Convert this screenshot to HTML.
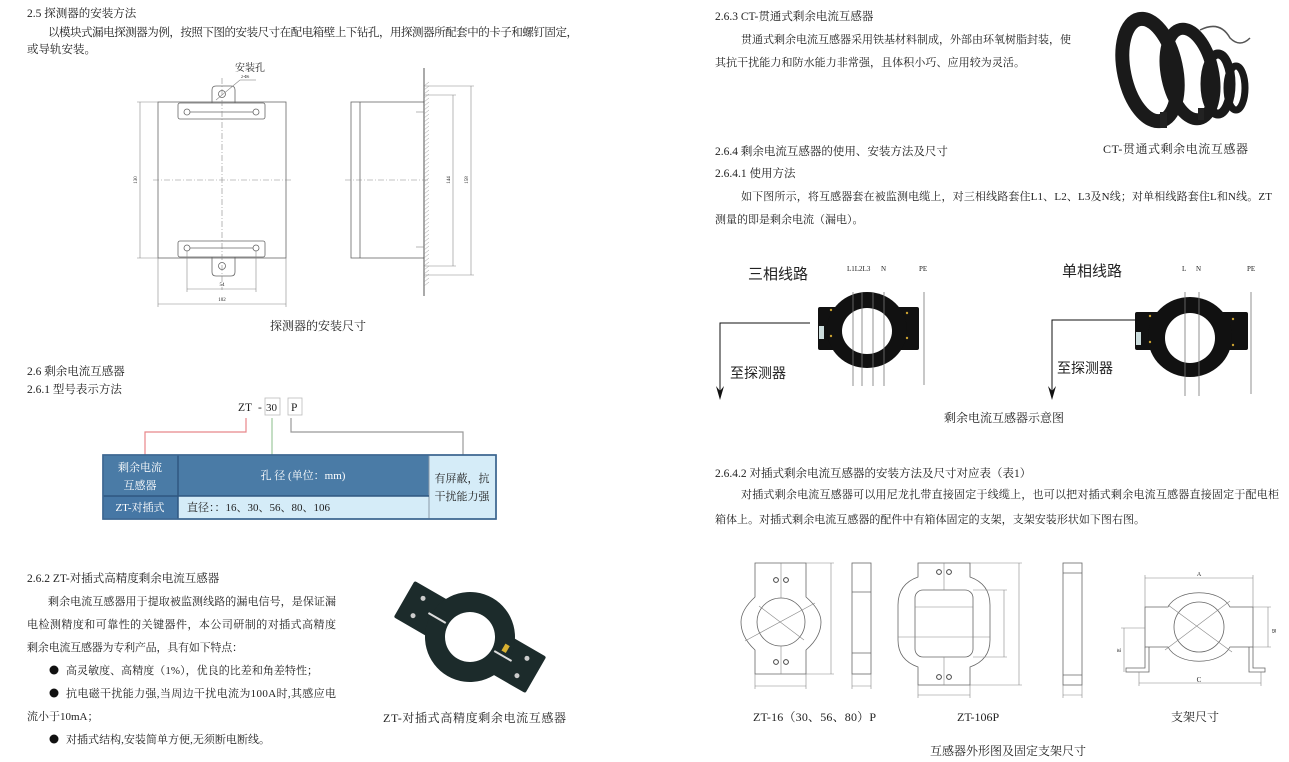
<!DOCTYPE html>
<html><head><meta charset="utf-8"><style>
html,body{margin:0;padding:0;background:#fff;}
svg{display:block;}
text{font-family:"Liberation Serif","Noto Serif CJK SC",serif;fill:#222;}
.s{font-family:"Liberation Sans","Noto Sans CJK SC",sans-serif;}
.ln{stroke:#666;stroke-width:0.8;fill:none;}
.dl{stroke:#888;stroke-width:0.6;fill:none;}
.cl{stroke:#888;stroke-width:0.6;stroke-dasharray:6 2 1 2;fill:none;}
</style></head><body>
<svg width="1289" height="762" viewBox="0 0 1289 762" xmlns="http://www.w3.org/2000/svg">
<!-- LEFT TOP TEXT -->
<text x="27" y="17" font-size="11.5">2.5 探测器的安装方法</text>
<text x="48" y="36" font-size="11.5" textLength="530">以模块式漏电探测器为例，按照下图的安装尺寸在配电箱壁上下钻孔，用探测器所配套中的卡子和螺钉固定，</text>
<text x="27" y="53" font-size="11.5">或导轨安装。</text>

<!-- front view -->
<rect class="ln" x="158" y="102" width="128" height="156"/>
<path class="ln" d="M212,103 L212,90 Q212,86 216,86 L231,86 Q235,86 235,90 L235,103"/>
<rect class="ln" x="178" y="103" width="87" height="16" rx="2" fill="#fff"/>
<circle class="ln" cx="222" cy="94" r="3.5"/>
<circle class="ln" cx="187" cy="112" r="3"/><circle class="ln" cx="256" cy="112" r="3"/>
<line class="ln" x1="190" y1="112" x2="253" y2="112"/>
<rect class="ln" x="178" y="241" width="87" height="16" rx="2" fill="#fff"/>
<circle class="ln" cx="187" cy="248" r="3"/><circle class="ln" cx="256" cy="248" r="3"/>
<line class="ln" x1="190" y1="248" x2="253" y2="248"/>
<path class="ln" d="M212,257 L212,272 Q212,276 216,276 L231,276 Q235,276 235,272 L235,257"/>
<circle class="ln" cx="222" cy="266" r="3.5"/>
<line class="cl" x1="222" y1="78" x2="222" y2="290"/>
<line class="cl" x1="153" y1="180" x2="291" y2="180"/>
<line class="dl" x1="140" y1="102" x2="140" y2="258"/>
<line class="dl" x1="137" y1="102" x2="158" y2="102"/><line class="dl" x1="137" y1="258" x2="158" y2="258"/>
<text x="137" y="180" font-size="5" transform="rotate(-90 137 180)" text-anchor="middle">130</text>
<line class="dl" x1="187" y1="289" x2="256" y2="289"/>
<line class="dl" x1="187" y1="250" x2="187" y2="292"/><line class="dl" x1="256" y1="250" x2="256" y2="292"/>
<text x="222" y="286" font-size="5" text-anchor="middle">54</text>
<line class="dl" x1="158" y1="304" x2="286" y2="304"/>
<line class="dl" x1="158" y1="258" x2="158" y2="307"/><line class="dl" x1="286" y1="258" x2="286" y2="307"/>
<text x="222" y="301" font-size="5" text-anchor="middle">102</text>
<text x="235" y="71" font-size="10">安装孔</text>
<text x="241" y="78" font-size="4">2-Φ6</text>
<line class="dl" x1="216" y1="100" x2="240" y2="80"/><line class="dl" x1="240" y1="80" x2="256" y2="80"/>

<!-- side view -->
<rect class="ln" x="351" y="102" width="73" height="156"/>
<line class="ln" x1="360" y1="102" x2="360" y2="258"/>
<line x1="424" y1="68" x2="424" y2="296" stroke="#555" stroke-width="1"/>
<path stroke="#999" stroke-width="0.5" fill="none" d="M424,262 l5,-4 M424,258 l5,-4 M424,254 l5,-4 M424,250 l5,-4 M424,246 l5,-4 M424,242 l5,-4 M424,238 l5,-4 M424,234 l5,-4 M424,230 l5,-4 M424,226 l5,-4 M424,222 l5,-4 M424,218 l5,-4 M424,214 l5,-4 M424,210 l5,-4 M424,206 l5,-4 M424,202 l5,-4 M424,198 l5,-4 M424,194 l5,-4 M424,190 l5,-4 M424,186 l5,-4 M424,182 l5,-4 M424,178 l5,-4 M424,174 l5,-4 M424,170 l5,-4 M424,166 l5,-4 M424,162 l5,-4 M424,158 l5,-4 M424,154 l5,-4 M424,150 l5,-4 M424,146 l5,-4 M424,142 l5,-4 M424,138 l5,-4 M424,134 l5,-4 M424,130 l5,-4 M424,126 l5,-4 M424,122 l5,-4 M424,118 l5,-4 M424,114 l5,-4 M424,110 l5,-4 M424,106 l5,-4 M424,102 l5,-4 M424,98 l5,-4 M424,94 l5,-4 M424,90 l5,-4 M424,86 l5,-4 M424,266 l5,-4 M424,270 l5,-4 M424,274 l5,-4 M424,278 l5,-4 M424,282 l5,-4 M424,286 l5,-4"/>
<line class="cl" x1="345" y1="180" x2="430" y2="180"/>
<line class="dl" x1="453" y1="95" x2="453" y2="266"/>
<line class="dl" x1="424" y1="95" x2="456" y2="95"/><line class="dl" x1="424" y1="266" x2="456" y2="266"/>
<line class="dl" x1="471" y1="86" x2="471" y2="275"/>
<line class="dl" x1="424" y1="86" x2="474" y2="86"/><line class="dl" x1="424" y1="275" x2="474" y2="275"/>
<line class="dl" x1="416" y1="112" x2="424" y2="112"/><line class="dl" x1="416" y1="247" x2="424" y2="247"/>
<text x="450" y="180" font-size="5" transform="rotate(-90 450 180)" text-anchor="middle">144</text>
<text x="468" y="180" font-size="5" transform="rotate(-90 468 180)" text-anchor="middle">158</text>
<text x="318" y="330" font-size="12" text-anchor="middle">探测器的安装尺寸</text>

<!-- 2.6 -->
<text x="27" y="375" font-size="11.5">2.6  剩余电流互感器</text>
<text x="27" y="393" font-size="11.5">2.6.1  型号表示方法</text>
<text x="238" y="411" font-size="11.5">ZT</text>
<text x="258" y="411" font-size="11.5">-</text>
<rect x="265" y="398" width="15" height="17" fill="none" stroke="#bbb" stroke-width="0.8"/>
<text x="266" y="411" font-size="11">30</text>
<rect x="288" y="398" width="14" height="17" fill="none" stroke="#bbb" stroke-width="0.8"/>
<text x="291" y="411" font-size="11.5">P</text>
<polyline points="246,418 246,432 145,432 145,455" fill="none" stroke="#e8868a" stroke-width="1.2"/>
<line x1="272" y1="418" x2="272" y2="455" stroke="#9cc79c" stroke-width="1.2"/>
<polyline points="291,418 291,432 463,432 463,455" fill="none" stroke="#999" stroke-width="1.2"/>
<!-- table -->
<rect x="103" y="455" width="393" height="64" fill="#d5ecf8" stroke="#3d6690" stroke-width="1.5"/>
<rect x="103" y="455" width="326" height="41" fill="#4a7ba6"/>
<rect x="103" y="496" width="75" height="23" fill="#4677a5"/>
<line x1="178" y1="455" x2="178" y2="519" stroke="#2f5780" stroke-width="1.5"/>
<line x1="429" y1="455" x2="429" y2="519" stroke="#8a9aa8" stroke-width="1"/>
<line x1="103" y1="496" x2="429" y2="496" stroke="#2f5780" stroke-width="1.5"/>
<rect x="103" y="455" width="393" height="64" fill="none" stroke="#3d6690" stroke-width="1.5"/>
<text x="140" y="471" font-size="11" fill="#fff" style="fill:#fff" text-anchor="middle">剩余电流</text>
<text x="140" y="489" font-size="11" style="fill:#fff" text-anchor="middle">互感器</text>
<text x="303" y="479" font-size="11" style="fill:#fff" text-anchor="middle">孔  径    (单位：mm)</text>
<text x="140" y="511" font-size="11" style="fill:#fff" text-anchor="middle">ZT-对插式</text>
<text x="187" y="511" font-size="11">直径：：16、30、56、80、106</text>
<text x="462" y="482" font-size="11" text-anchor="middle">有屏蔽，抗</text>
<text x="462" y="500" font-size="11" text-anchor="middle">干扰能力强</text>

<!-- 2.6.2 -->
<text x="27" y="582" font-size="11.5">2.6.2  ZT-对插式高精度剩余电流互感器</text>
<text x="48" y="605" font-size="11" textLength="288">剩余电流互感器用于提取被监测线路的漏电信号，是保证漏</text>
<text x="27" y="628" font-size="11" textLength="309">电检测精度和可靠性的关键器件，本公司研制的对插式高精度</text>
<text x="27" y="651" font-size="11" textLength="216">剩余电流互感器为专利产品，具有如下特点：</text>
<circle cx="54" cy="670" r="4.5" fill="#111"/>
<text x="66" y="674" font-size="11" textLength="252">高灵敏度、高精度（1%），优良的比差和角差特性；</text>
<circle cx="54" cy="693" r="4.5" fill="#111"/>
<text x="66" y="697" font-size="11" textLength="270">抗电磁干扰能力强,当周边干扰电流为100A时,其感应电</text>
<text x="27" y="720" font-size="11">流小于10mA；</text>
<circle cx="54" cy="739" r="4.5" fill="#111"/>
<text x="66" y="743" font-size="11" textLength="204">对插式结构,安装简单方便,无须断电断线。</text>
<!-- ZT photo -->
<g transform="translate(470,637) rotate(30)">
<rect x="-76" y="-21" width="152" height="42" rx="2" fill="#1c2b2b"/>
<circle r="45" fill="#1c2b2b"/>
<circle r="25" fill="#fff"/>
<rect x="-48" y="-1" width="20" height="2" fill="#ddd"/>
<rect x="28" y="-1" width="20" height="2" fill="#ddd"/>
<circle cx="-60" cy="-10" r="2.5" fill="#ccc"/><circle cx="-60" cy="10" r="2.5" fill="#ccc"/>
<circle cx="60" cy="-10" r="2.5" fill="#ccc"/><circle cx="60" cy="10" r="2.5" fill="#ccc"/>
<rect x="34" y="-12" width="5" height="8" fill="#d8b030"/>
</g>
<text x="383" y="722" font-size="12" textLength="183">ZT-对插式高精度剩余电流互感器</text>

<!-- RIGHT TOP -->
<text x="715" y="20" font-size="11.5">2.6.3  CT-贯通式剩余电流互感器</text>
<text x="741" y="43" font-size="11" textLength="330">贯通式剩余电流互感器采用铁基材料制成，外部由环氧树脂封装，使</text>
<text x="715" y="66" font-size="11" textLength="310">其抗干扰能力和防水能力非常强，且体积小巧、应用较为灵活。</text>
<!-- CT photo -->
<g fill="none" stroke="#1a1a1a">
<ellipse cx="1236" cy="88" rx="9" ry="22" stroke-width="7"/>
<ellipse cx="1218" cy="84" rx="13" ry="30" stroke-width="9"/>
<ellipse cx="1190" cy="74" rx="23" ry="46" stroke-width="12" transform="rotate(-12 1190 74)"/>
<ellipse cx="1150" cy="70" rx="26" ry="52" stroke-width="14" transform="rotate(-12 1150 70)"/>
</g>
<rect x="1160" y="112" width="7" height="16" fill="#222"/>
<rect x="1198" y="108" width="6" height="12" fill="#222"/>
<path d="M1200,30 q20,-10 30,8 q10,10 20,0" fill="none" stroke="#555" stroke-width="1.5"/>
<text x="1103" y="153" font-size="12" textLength="145">CT-贯通式剩余电流互感器</text>
<text x="715" y="155" font-size="11.5">2.6.4  剩余电流互感器的使用、安装方法及尺寸</text>
<text x="715" y="177" font-size="11.5">2.6.4.1  使用方法</text>
<text x="741" y="200" font-size="11" textLength="531">如下图所示，将互感器套在被监测电缆上，对三相线路套住L1、L2、L3及N线；对单相线路套住L和N线。ZT</text>
<text x="715" y="223" font-size="11">测量的即是剩余电流（漏电）。</text>

<!-- schematic -->
<text class="s" x="748" y="279" font-size="15" fill="#333">三相线路</text>
<text x="847" y="271" font-size="7">L1L2L3</text><text x="881" y="271" font-size="7">N</text><text x="919" y="271" font-size="7">PE</text>
<rect x="818" y="307" width="101" height="43" rx="2" fill="#111"/>
<ellipse cx="867" cy="330" rx="40" ry="38" fill="#111"/>
<ellipse cx="867" cy="331" rx="25" ry="23" fill="#fff"/>
<rect x="819" y="326" width="5" height="13" fill="#cdd"/>
<circle cx="831" cy="310" r="1.2" fill="#c9a030"/><circle cx="831" cy="336" r="1.2" fill="#c9a030"/>
<circle cx="907" cy="313" r="1.2" fill="#c9a030"/><circle cx="907" cy="338" r="1.2" fill="#c9a030"/>
<g stroke="#777" stroke-width="0.8"><line x1="853" y1="292" x2="853" y2="386"/><line x1="862" y1="292" x2="862" y2="386"/><line x1="873" y1="292" x2="873" y2="386"/><line x1="884" y1="292" x2="884" y2="386"/><line x1="924" y1="292" x2="924" y2="385"/></g>
<polyline points="810,323 720,323 720,396" fill="none" stroke="#111" stroke-width="1"/>
<path d="M716,386 L720,400 L724,386 L720,391 Z" fill="#111"/>
<text class="s" x="730" y="378" font-size="14" fill="#333">至探测器</text>

<text class="s" x="1062" y="276" font-size="15" fill="#333">单相线路</text>
<text x="1182" y="271" font-size="7">L</text><text x="1196" y="271" font-size="7">N</text><text x="1247" y="271" font-size="7">PE</text>
<rect x="1135" y="312" width="113" height="38" rx="2" fill="#111"/>
<ellipse cx="1190" cy="337" rx="42" ry="40" fill="#111"/>
<ellipse cx="1190" cy="338" rx="25" ry="25" fill="#fff"/>
<rect x="1136" y="332" width="5" height="13" fill="#cdd"/>
<circle cx="1150" cy="316" r="1.2" fill="#c9a030"/><circle cx="1150" cy="342" r="1.2" fill="#c9a030"/>
<circle cx="1233" cy="319" r="1.2" fill="#c9a030"/><circle cx="1233" cy="345" r="1.2" fill="#c9a030"/>
<g stroke="#777" stroke-width="0.8"><line x1="1185" y1="292" x2="1185" y2="396"/><line x1="1199" y1="292" x2="1199" y2="396"/><line x1="1251" y1="292" x2="1251" y2="394"/></g>
<polyline points="1135,320 1052,320 1052,396" fill="none" stroke="#111" stroke-width="1"/>
<path d="M1048,386 L1052,400 L1056,386 L1052,391 Z" fill="#111"/>
<text class="s" x="1057" y="373" font-size="14" fill="#333">至探测器</text>
<text x="1004" y="422" font-size="12" text-anchor="middle">剩余电流互感器示意图</text>

<!-- 2.6.4.2 -->
<text x="715" y="477" font-size="11.5">2.6.4.2  对插式剩余电流互感器的安装方法及尺寸对应表（表1）</text>
<text x="741" y="498" font-size="11" textLength="538">对插式剩余电流互感器可以用尼龙扎带直接固定于线缆上，也可以把对插式剩余电流互感器直接固定于配电柜</text>
<text x="715" y="523" font-size="11" textLength="430">箱体上。对插式剩余电流互感器的配件中有箱体固定的支架，支架安装形状如下图右图。</text>

<!-- ZT-16 -->
<path class="ln" d="M755,563 L806,563 L806,597 Q821,610 821,622 Q821,637 806,650 L806,674 L755,674 L755,650 Q741,637 741,622 Q741,610 755,597 Z"/>
<circle class="ln" cx="781" cy="622" r="24"/>
<line class="dl" x1="781" y1="563" x2="781" y2="598"/><line class="dl" x1="781" y1="646" x2="781" y2="674"/>
<line class="dl" x1="745" y1="641" x2="815" y2="603"/><line class="dl" x1="759" y1="606" x2="804" y2="640"/>
<g fill="#fff" stroke="#444" stroke-width="1"><circle cx="776" cy="580" r="2.4"/><circle cx="786" cy="580" r="2.4"/><circle cx="776" cy="662" r="2.4"/><circle cx="786" cy="662" r="2.4"/></g>
<line class="dl" x1="831" y1="563" x2="831" y2="674"/><line class="dl" x1="806" y1="563" x2="834" y2="563"/><line class="dl" x1="806" y1="674" x2="834" y2="674"/>
<line class="dl" x1="755" y1="686" x2="806" y2="686"/><line class="dl" x1="755" y1="674" x2="755" y2="689"/><line class="dl" x1="806" y1="674" x2="806" y2="689"/>
<rect class="ln" x="852" y="563" width="19" height="111"/>
<line class="ln" x1="852" y1="592" x2="871" y2="592"/><line class="ln" x1="852" y1="653" x2="871" y2="653"/>
<line class="dl" x1="852" y1="686" x2="871" y2="686"/><line class="dl" x1="852" y1="674" x2="852" y2="689"/><line class="dl" x1="871" y1="674" x2="871" y2="689"/>

<!-- ZT-106P -->
<path class="ln" d="M918,563 L970,563 L970,577 Q990,584 990,605 L990,640 Q990,660 970,667 L970,685 L918,685 L918,667 Q898,660 898,640 L898,605 Q898,584 918,577 Z"/>
<rect class="ln" x="915" y="590" width="58" height="67" rx="8"/>
<line class="dl" x1="944" y1="563" x2="944" y2="590"/><line class="dl" x1="944" y1="657" x2="944" y2="685"/>
<line class="dl" x1="915" y1="607" x2="973" y2="607"/><line class="dl" x1="898" y1="637" x2="990" y2="637"/>
<line class="dl" x1="1004" y1="590" x2="1004" y2="657"/><line class="dl" x1="973" y1="590" x2="1007" y2="590"/><line class="dl" x1="973" y1="657" x2="1007" y2="657"/>
<line class="dl" x1="1019" y1="563" x2="1019" y2="685"/><line class="dl" x1="970" y1="563" x2="1022" y2="563"/><line class="dl" x1="970" y1="685" x2="1022" y2="685"/>
<g fill="#fff" stroke="#444" stroke-width="1"><circle cx="939" cy="572" r="2.4"/><circle cx="949" cy="572" r="2.4"/><circle cx="939" cy="677" r="2.4"/><circle cx="949" cy="677" r="2.4"/></g>
<line class="dl" x1="918" y1="695" x2="970" y2="695"/><line class="dl" x1="918" y1="685" x2="918" y2="698"/><line class="dl" x1="970" y1="685" x2="970" y2="698"/>
<rect class="ln" x="1063" y="563" width="19" height="122"/>
<line class="ln" x1="1063" y1="573" x2="1082" y2="573"/><line class="ln" x1="1063" y1="675" x2="1082" y2="675"/>
<line class="dl" x1="1063" y1="695" x2="1082" y2="695"/><line class="dl" x1="1063" y1="685" x2="1063" y2="698"/><line class="dl" x1="1082" y1="685" x2="1082" y2="698"/>

<!-- bracket -->
<path class="ln" d="M1145,607 L1168,607 C1178,588 1220,588 1230,607 L1253,607 L1253,647 L1230,647 C1220,666 1178,666 1168,647 L1145,647 Z"/>
<circle class="ln" cx="1199" cy="627" r="25"/>
<path class="ln" d="M1145,647 L1145,668 L1126,668 L1126,672 L1149,672 L1149,647"/>
<path class="ln" d="M1253,647 L1253,668 L1265,668 L1265,672 L1249,672 L1249,647"/>
<line class="dl" x1="1165" y1="650" x2="1230" y2="601"/><line class="dl" x1="1168" y1="605" x2="1232" y2="652"/>
<line class="dl" x1="1145" y1="578" x2="1253" y2="578"/><line class="dl" x1="1145" y1="575" x2="1145" y2="607"/><line class="dl" x1="1253" y1="575" x2="1253" y2="607"/>
<line class="dl" x1="1139" y1="683" x2="1261" y2="683"/><line class="dl" x1="1139" y1="672" x2="1139" y2="686"/><line class="dl" x1="1261" y1="672" x2="1261" y2="686"/>
<line class="dl" x1="1268" y1="607" x2="1268" y2="647"/><line class="dl" x1="1253" y1="607" x2="1271" y2="607"/><line class="dl" x1="1253" y1="647" x2="1271" y2="647"/>
<line class="dl" x1="1124" y1="628" x2="1124" y2="672"/><line class="dl" x1="1121" y1="628" x2="1145" y2="628"/>
<text x="1199" y="576" font-size="6" text-anchor="middle">A</text>
<text x="1199" y="682" font-size="7" text-anchor="middle">C</text>
<text x="1272" y="629" font-size="6" transform="rotate(90 1272 629)">B</text>
<text x="1121" y="652" font-size="6" transform="rotate(-90 1121 652)">E</text>

<text x="753" y="721" font-size="12" textLength="123">ZT-16（30、56、80）P</text>
<text x="957" y="721" font-size="12">ZT-106P</text>
<text x="1171" y="721" font-size="12">支架尺寸</text>
<text x="1008" y="755" font-size="12" text-anchor="middle">互感器外形图及固定支架尺寸</text>
</svg>
</body></html>
